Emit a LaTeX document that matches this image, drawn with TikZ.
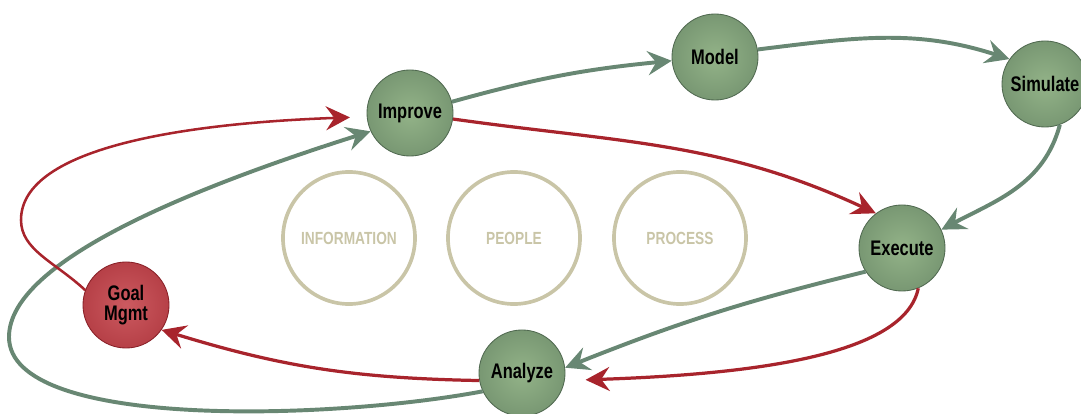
\documentclass[tikz,border=0pt]{standalone}
\usepackage{fontspec}
\newfontfamily\cyclefont[FakeStretch=0.78]{Liberation Sans}
\usetikzlibrary{positioning, arrows.meta}
\usepackage{xcolor}
\definecolor{stagelight}{HTML}{93B388}
\definecolor{stagedark}{HTML}{5E7C5E}
\definecolor{goallight}{HTML}{CC5A60}
\definecolor{goaldark}{HTML}{A0262E}
\definecolor{linkgreen}{HTML}{688773}
\definecolor{linkred}{HTML}{A8242C}
\definecolor{pillarbeige}{HTML}{C9C5A7}
\pgfdeclareradialshading{stageshade}{\pgfpoint{0bp}{0bp}}{color(0bp)=(stagelight); color(50bp)=(stagedark); color(100bp)=(stagedark)}
\pgfdeclareradialshading{goalshade}{\pgfpoint{0bp}{0bp}}{color(0bp)=(goallight); color(50bp)=(goaldark); color(100bp)=(goaldark)}
\tikzset{stage/.style={circle, minimum size=2.15cm, inner sep=0pt, draw=stagedark!85!black,
           line width=0.6pt, shading=stageshade, align=center,
           font=\cyclefont\bfseries\fontsize{15}{14.5}\selectfont},
         goal/.style={stage, shading=goalshade, draw=goaldark!85!black},
         pillar/.style={circle, minimum size=3.3cm, inner sep=0pt, draw=pillarbeige, line width=2.6pt,
           text=pillarbeige, font=\cyclefont\bfseries\fontsize{12.5}{12.5}\selectfont},
         greenlink/.style={draw=linkgreen, line width=2.8pt,
           -{Stealth[length=0.6cm, width=0.6cm, inset=0.21cm]}},
         redlink/.style={draw=linkred, line width=2.3pt,
           -{Stealth[length=0.6cm, width=0.6cm, inset=0.21cm]}}}

\begin{document}
\begin{tikzpicture}[x=0.025cm, y=0.025cm]
        \useasboundingbox (0,0) rectangle (1081,414);
        \node[pillar] (info) at (349,176) {INFORMATION};
        \node[pillar] (people) at (514,176) {PEOPLE};
        \node[pillar] (process) at (680,176) {PROCESS};
        \node[stage] (improve) at (410,301) {Improve};
        \node[stage] (model) at (715,357) {Model};
        \node[stage] (simulate) at (1045,330) {Simulate};
        \node[stage] (execute) at (902,166) {Execute};
        \node[stage] (analyze) at (522,41) {Analyze};
        \node[goal] (goal) at (126,109) {Goal\\Mgmt};
        % green cycle
        \draw[greenlink] (improve.15) to[bend left=5] (model.185);
        \draw[greenlink] (model.10) to[out=7, in=162] (simulate.145);
        \draw[greenlink] (simulate.-70) to[out=255, in=28] (execute.25);
        \draw[greenlink] (execute.213) to[bend right=4] (analyze.7);
        \draw[greenlink] (analyze.205) .. controls (330,-6) and (9,-16) .. (9,77)
              .. controls (9,154) and (198,228) .. (improve.205);
        % red cycle
        \draw[redlink] (improve.-8) to[out=-8, in=155] (execute.127);
        \draw[redlink, shorten >=0.52cm] (execute.-68) .. controls (905,60) and (760,40) .. (analyze.-10);
        \draw[redlink] (analyze.190) to[bend left=8] (goal.-35);
        \draw[redlink, line width=1.8pt, shorten >=0.42cm] (goal.160) .. controls (55,152) and (21,164) .. (21,194)
              .. controls (21,274) and (220,292) .. (improve.185);
\end{tikzpicture}
\end{document}
